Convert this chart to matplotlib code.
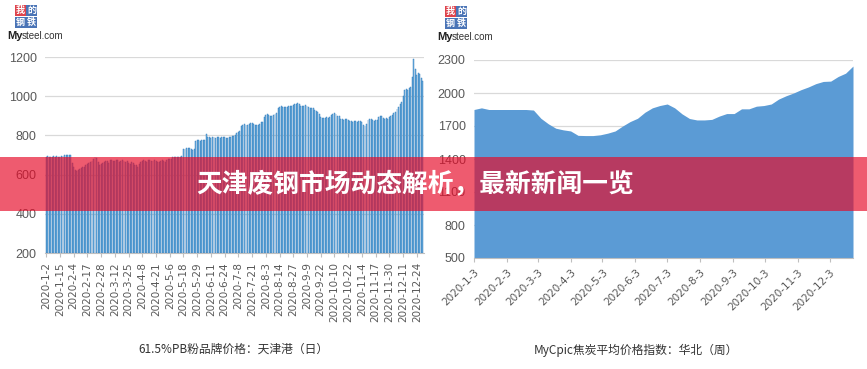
import numpy as np
import pandas as pd
import matplotlib
matplotlib.use('Agg')
import matplotlib.pyplot as plt
from matplotlib.patches import Rectangle

plt.rcParams['font.family'] = ['Noto Sans CJK SC', 'DejaVu Sans']

# ---- left: 61.5%PB fines, Tianjin port (daily) ----
pb_price = [
    690, 695, 692, 688, 690, 693, 690, 695, 692, 690, 694, 696, 700, 702, 700, 698, 700,
    660, 640, 625, 620, 622, 628, 632,
    638, 640, 648, 655, 660, 662, 668,
    680, 688, 685,
    665, 650, 652, 660,
    665, 670, 668, 660, 672, 675, 668, 670, 676, 672, 665, 668, 674, 670,
    662, 668, 658, 655, 665, 660, 650, 648, 640, 655, 662,
    668, 672, 670, 665, 675, 672, 668, 670, 674, 670, 666, 664, 670, 672, 668, 665, 675, 680, 678, 682,
    690, 692, 690, 688, 692, 690, 695,
    730, 733, 736, 738, 735, 730, 728, 732,
    772, 775, 775, 770, 776, 775, 778,
    805,
    792, 790, 788, 792, 790, 786, 790, 792, 788, 790, 794, 790, 786, 788, 790, 792, 795,
    795, 800, 812, 818, 820,
    850, 855, 856, 852, 855, 858,
    862, 864, 860,
    855, 852, 855, 858,
    866, 870,
    895, 905, 908,
    902, 898, 900, 905, 910, 915,
    940, 945, 948, 946, 944, 947, 945, 948, 950, 952,
    956, 958,
    962, 965, 960,
    952, 948, 950, 954, 950,
    945, 940, 942, 938,
    930, 925, 920, 910,
    895, 890, 888, 890, 892, 890, 895,
    905, 910, 912, 908,
    900, 898,
    885, 882, 880, 884, 882, 878,
    875, 872, 870, 874, 872, 870, 873, 871, 868,
    855, 850, 860,
    880, 884, 882,
    878, 876, 880, 878,
    895, 900, 898,
    890, 886, 888, 885,
    895, 900, 902,
    912, 920,
    935, 945,
    960, 970,
    1000,
    1030, 1036, 1033,
    1040, 1045,
    1097,
    1190,
    1140, 1110, 1120, 1115, 1095, 1080,
]
pb_labels = ['2020-1-2', '2020-1-15', '2020-2-4', '2020-2-17', '2020-2-28', '2020-3-12',
             '2020-3-25', '2020-4-8', '2020-4-21', '2020-5-6', '2020-5-18', '2020-5-29',
             '2020-6-11', '2020-6-24', '2020-7-8', '2020-7-21', '2020-8-3', '2020-8-14',
             '2020-8-27', '2020-9-9', '2020-9-22', '2020-10-10', '2020-10-22', '2020-11-4',
             '2020-11-17', '2020-11-30', '2020-12-11', '2020-12-24']
pb_label_step = 9

# ---- right: MyCpic coke price index, North China (weekly) ----
coke_start = '2020-01-03'
coke_index = [1850, 1865, 1850, 1850, 1850, 1850, 1850, 1850, 1845, 1770,
              1720, 1680, 1665, 1655, 1615, 1613, 1613, 1620, 1635, 1655,
              1700, 1740, 1770, 1825, 1865, 1886, 1900, 1865, 1810, 1768,
              1755, 1755, 1760, 1790, 1813, 1813, 1856, 1856, 1880, 1886,
              1900, 1945, 1975, 2000, 2030, 2055, 2085, 2105, 2108, 2150,
              2180, 2245]
coke_ticks = ['2020-1-3', '2020-2-3', '2020-3-3', '2020-4-3', '2020-5-3', '2020-6-3',
              '2020-7-3', '2020-8-3', '2020-9-3', '2020-10-3', '2020-11-3', '2020-12-3']

title = '天津废钢市场动态解析，最新新闻一览'
cap_left = '61.5%PB粉品牌价格：天津港（日）'
cap_right = 'MyCpic焦炭平均价格指数：华北（周）'

W, H = 867, 369
fig = plt.figure(figsize=(W / 100, H / 100), dpi=100)
fig.patch.set_facecolor('white')

grey = '#595959'
grid = '#d9d9d9'

def px(x0, y0, x1, y1):
    # pixel box -> figure fraction rect
    return [x0 / W, 1 - y1 / H, (x1 - x0) / W, (y1 - y0) / H]

def style_axis(ax):
    for s in ['top', 'right', 'left']:
        ax.spines[s].set_visible(False)
    ax.spines['bottom'].set_color('#bfbfbf')
    ax.yaxis.grid(True, color=grid, lw=0.9)
    ax.set_axisbelow(True)
    ax.tick_params(axis='y', length=0, labelsize=9, labelcolor=grey, pad=6)
    ax.tick_params(axis='x', color='#bfbfbf', length=3, labelsize=7.5, labelcolor=grey)
    for t in ax.get_yticklabels():
        t.set_family(['Liberation Sans', 'DejaVu Sans'])

# left chart
ax1 = fig.add_axes(px(45, 57, 424, 253))
n = len(pb_price)
ax1.bar(np.arange(n), np.array(pb_price) - 200, bottom=200, width=0.62,
        color='#7bbbe8', edgecolor='#2472b5', lw=0.3)
ax1.set_ylim(200, 1200)
ax1.set_yticks(range(200, 1201, 200))
ax1.set_xlim(-0.8, n - 0.3)
ax1.set_xticks(np.arange(len(pb_labels)) * pb_label_step)
ax1.set_xticklabels(pb_labels, rotation=90, family=['DejaVu Sans'])
style_axis(ax1)
fig.text(233 / W, 1 - 349 / H, cap_left, fontsize=8.5, color='#333333',
         ha='center', va='center')

# right chart
ax2 = fig.add_axes(px(474, 60, 853, 258))
dates = pd.date_range(coke_start, periods=len(coke_index), freq='7D')
ax2.fill_between(dates, 500, coke_index, color='#5b9bd5', lw=0)
ax2.set_ylim(500, 2300)
ax2.set_yticks(range(500, 2301, 300))
ax2.set_xlim(dates[0], dates[-1])
tick_dates = pd.to_datetime(coke_ticks, format='%Y-%m-%d')
ax2.set_xticks(tick_dates)
ax2.set_xticklabels(coke_ticks, rotation=45, ha='right', rotation_mode='anchor',
                    family=['DejaVu Sans'])
style_axis(ax2)
fig.text(636 / W, 1 - 350 / H, cap_right, fontsize=8.5, color='#333333',
         ha='center', va='center')

# logos
def logo(x, y):
    cells = [('我', x + 8, y + 3, '#d9232e'), ('的', x + 19, y + 3, '#2a5caa'),
             ('钢', x + 8, y + 15, '#2a5caa'), ('铁', x + 19, y + 15, '#2a5caa')]
    for ch, cx, cy, c in cells:
        fig.patches.append(Rectangle((cx / W, 1 - (cy + 11) / H), 11 / W, 11 / H,
                                     transform=fig.transFigure, facecolor=c,
                                     edgecolor='none', alpha=0.85))
        fig.text((cx + 5.5) / W, 1 - (cy + 5.5) / H, ch, fontsize=6.5, color='white',
                 ha='center', va='center', fontweight='bold')
    fig.text(x / W, 1 - (y + 34) / H, 'My', fontsize=8, fontweight='bold', color='#222222',
             ha='left', va='center', family=['Liberation Sans'])
    fig.text((x + 15) / W, 1 - (y + 34) / H, 'steel.com', fontsize=7, color='#333333',
             ha='left', va='center', family=['Liberation Sans'])

logo(7, 2)
logo(437, 3)

# banner overlay
fig.patches.append(Rectangle((0, 1 - 211 / H), 1, 54 / H, transform=fig.transFigure,
                             facecolor=(230 / 255, 10 / 255, 40 / 255), edgecolor='none',
                             alpha=0.67, zorder=10))
fig.text(415 / W, 1 - 184 / H, title, fontsize=18.5, fontweight='bold', color='white',
         ha='center', va='center', zorder=11)

fig.savefig('out.png', dpi=100)
